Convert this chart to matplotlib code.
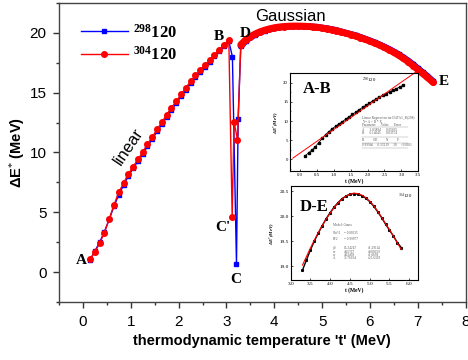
import matplotlib
matplotlib.use("Agg")
import matplotlib.pyplot as plt
from matplotlib.ticker import MultipleLocator, FormatStrFormatter

plt.rcParams['font.family'] = ['Liberation Sans', 'DejaVu Sans']
plt.rcParams['mathtext.fontset'] = 'custom'
plt.rcParams['mathtext.rm'] = 'Liberation Serif'
plt.rcParams['mathtext.bf'] = 'Liberation Serif:bold'
plt.rcParams['mathtext.it'] = 'Liberation Serif:italic'

SERIF = ['Liberation Serif', 'DejaVu Serif']

# ---- data ----
# linear rise A-B (both nuclei share the temperature grid)
rise_t = [0.15, 0.25, 0.35, 0.45, 0.55, 0.65, 0.75, 0.85, 0.95, 1.05,
          1.15, 1.25, 1.35, 1.45, 1.55, 1.65, 1.75, 1.85, 1.95, 2.05,
          2.15, 2.25, 2.35, 2.45, 2.55, 2.65, 2.75, 2.85, 2.95, 3.05]
red_rise = [1.11, 1.67, 2.42, 3.31, 4.45, 5.62, 6.68, 7.43, 8.21, 8.82,
            9.43, 10.02, 10.71, 11.29, 11.93, 12.52, 13.16, 13.74, 14.27, 14.85,
            15.41, 15.94, 16.44, 16.89, 17.33, 17.75, 18.18, 18.60, 19.02, 19.42]
blue_rise = [1.00, 1.75, 2.50, 3.38, 4.40, 5.50, 6.48, 7.25, 8.05, 8.66,
             9.27, 9.86, 10.53, 11.12, 11.76, 12.35, 12.98, 13.56, 14.10, 14.68,
             15.24, 15.77, 16.27, 16.73, 17.18, 17.60, 18.03, 18.45, 18.88, 19.30]

# dip B-C-D
red_dip_t = [3.12, 3.16, 3.23]
red_dip = [4.64, 12.55, 11.07]
blue_dip_t = [3.125, 3.21, 3.245]
blue_dip = [18.0, 0.69, 12.77]

# gaussian part D-E
gauss_t = [3.3, 3.4, 3.5, 3.6, 3.7, 3.8, 3.9, 4.0, 4.1, 4.2,
           4.3, 4.4, 4.5, 4.6, 4.7, 4.8, 4.9, 5.0, 5.1, 5.2,
           5.3, 5.4, 5.5, 5.6, 5.7, 5.8, 5.9, 6.0, 6.1, 6.2,
           6.3, 6.4, 6.5, 6.6, 6.7, 6.8, 6.9, 7.0, 7.1, 7.2, 7.32]
red_gauss = [19.00, 19.40, 19.68, 19.90, 20.08, 20.22, 20.33, 20.42, 20.48, 20.52,
             20.55, 20.56, 20.56, 20.55, 20.53, 20.50, 20.46, 20.40, 20.34, 20.26,
             20.18, 20.07, 19.96, 19.85, 19.74, 19.60, 19.45, 19.30, 19.14, 18.97,
             18.78, 18.58, 18.36, 18.12, 17.86, 17.58, 17.26, 16.93, 16.60, 16.28, 15.85]
blue_gauss = [18.88, 19.30, 19.61, 19.84, 20.03, 20.18, 20.30, 20.40, 20.47, 20.51,
              20.54, 20.56, 20.56, 20.55, 20.54, 20.51, 20.48, 20.42, 20.36, 20.28,
              20.21, 20.10, 19.99, 19.88, 19.78, 19.64, 19.50, 19.35, 19.19, 19.02,
              18.84, 18.64, 18.43, 18.20, 17.94, 17.67, 17.36, 17.03, 16.70, 16.38, 15.95]

# inset A-B linear fit
ab_fit_t = [-0.22, 3.45]
ab_fit_E = [0.35, 22.9]

# inset D-E data and Gauss fit
de_t = [3.3, 3.4, 3.5, 3.6, 3.7, 3.8, 3.9, 4.0, 4.1, 4.2, 4.3, 4.4, 4.5,
        4.6, 4.7, 4.8, 4.9, 5.0, 5.1, 5.2, 5.3, 5.4, 5.5, 5.6, 5.7, 5.8]
de_E = [18.92, 19.12, 19.32, 19.50, 19.66, 19.81, 19.95, 20.07, 20.18, 20.27, 20.35, 20.40, 20.44,
        20.45, 20.44, 20.41, 20.36, 20.29, 20.20, 20.09, 19.97, 19.84, 19.72, 19.60, 19.47, 19.37]
de_fit = [19.02, 19.19, 19.36, 19.52, 19.67, 19.81, 19.94, 20.06, 20.17, 20.26, 20.34, 20.40, 20.44,
          20.46, 20.45, 20.42, 20.37, 20.30, 20.21, 20.10, 19.98, 19.85, 19.73, 19.60, 19.46, 19.33]

blue_t = rise_t + blue_dip_t + gauss_t
blue_E = blue_rise + blue_dip + blue_gauss
red_t = rise_t + red_dip_t + gauss_t
red_E = red_rise + red_dip + red_gauss

# ---- figure ----
fig = plt.figure(figsize=(4.68, 3.6), dpi=100)
ax = fig.add_axes([0.126, 0.161, 0.869, 0.831])

ax.plot(blue_t, blue_E, color='#0000ff', lw=1.0, marker='s', ms=3.2,
        label=r'$\mathbf{^{298}120}$')
# dense sampling in D-E makes the markers merge into a thick band
ax.plot(gauss_t, blue_gauss, color='#0000ff', lw=4.5, solid_capstyle='round')
ax.plot(red_t, red_E, color='#ff0000', lw=1.0, marker='o', ms=4.0,
        label=r'$\mathbf{^{304}120}$')
ax.plot(gauss_t, red_gauss, color='#ff0000', lw=5.0, solid_capstyle='round')

ax.set_xlim(-0.5, 8)
ax.set_ylim(-2.5, 22.5)
ax.xaxis.set_major_locator(MultipleLocator(1))
ax.xaxis.set_minor_locator(MultipleLocator(0.5))
ax.yaxis.set_major_locator(MultipleLocator(5))
ax.yaxis.set_minor_locator(MultipleLocator(2.5))
ax.tick_params(which='major', direction='out', length=4, width=1,
               labelsize=11, color='#333333', pad=5)
ax.tick_params(which='minor', direction='out', length=2.5, width=1, color='#333333')
for s in ax.spines.values():
    s.set_color('#444444')
    s.set_linewidth(1.0)

ax.set_xlabel("thermodynamic temperature 't' (MeV)", fontsize=10.5,
              fontweight='bold', labelpad=4)
ax.set_ylabel(r"ΔE$^{*}$ (MeV)", fontsize=10.5, fontweight='bold', labelpad=2)

leg = ax.legend(loc='upper left', bbox_to_anchor=(0.054, 0.935), frameon=False,
                borderpad=0, borderaxespad=0, handlelength=2.8,
                handletextpad=0.3, labelspacing=0.3, fontsize=12)

lab = dict(fontsize=11, fontweight='bold', family=SERIF, ha='center', va='center')
ax.text(-0.03, 0.97, 'A', **lab)
ax.text(2.85, 19.72, 'B', **lab)
ax.text(2.92, 3.7, "C'", **lab)
ax.text(3.19, -0.64, 'C', **lab)
ax.text(3.40, 19.97, 'D', **lab)
ax.text(7.55, 15.97, 'E', **lab)
ax.text(0.95, 10.5, 'linear', fontsize=12, rotation=56, ha='center', va='center')
ax.text(4.34, 21.4, 'Gaussian', fontsize=12, ha='center', va='center')

# ---- inset A-B ----
tiny = dict(family=SERIF, fontsize=2.4, color='#555555')
ax1 = fig.add_axes([0.620, 0.525, 0.2735, 0.272])
ax1.plot(rise_t, blue_rise, color='black', lw=0.6, marker='s', ms=1.8)
ax1.plot(ab_fit_t, ab_fit_E, color='red', lw=0.7, clip_on=False)
ax1.set_xlim(-0.3, 3.5)
ax1.set_ylim(-3, 22.5)
ax1.xaxis.set_major_locator(MultipleLocator(0.5))
ax1.yaxis.set_major_locator(MultipleLocator(5))
ax1.xaxis.set_major_formatter(FormatStrFormatter('%.1f'))
ax1.yaxis.set_major_formatter(FormatStrFormatter('%.0f'))
ax1.tick_params(direction='in', length=1.5, width=0.5, labelsize=3.5, pad=1.5)
ax1.yaxis.set_minor_locator(MultipleLocator(2.5))
ax1.tick_params(which='minor', direction='in', length=1, width=0.4)
for lb in ax1.get_xticklabels() + ax1.get_yticklabels():
    lb.set_family(SERIF)
for s in ax1.spines.values():
    s.set_linewidth(0.8)
ax1.set_xlabel('t (MeV)', fontsize=4, family=SERIF, fontweight='bold', labelpad=1)
ax1.set_ylabel(r'ΔE$^{*}$(MeV)', fontsize=3.5, family=SERIF, fontweight='bold',
               style='italic', labelpad=1)
ax1.text(0.10, 0.84, 'A-B', transform=ax1.transAxes, fontsize=12,
         fontweight='bold', family=SERIF, va='center')
ax1.text(0.56, 0.93, r'$^{298}$120', transform=ax1.transAxes, fontsize=3.5,
         family=SERIF, va='center')
tab_rows = [(0.54, 'Linear Regression for DATA1_B(298):'),
            (0.50, 'Y = A + B * X'),
            (0.47, 'Parameter      Value      Error'),
            (0.42, 'A      1.03894      0.05665'),
            (0.39, 'B      6.14045      0.03574'),
            (0.32, 'R          SD          N          P'),
            (0.265, '0.99946     0.33219     30     <0.0001')]
for yy, txt in tab_rows:
    ax1.text(0.56, yy, txt, transform=ax1.transAxes, va='center', **tiny)
for yy in [0.45, 0.35, 0.29, 0.235]:
    ax1.plot([0.56, 0.92], [yy, yy], transform=ax1.transAxes, color='#999999', lw=0.3)

# ---- inset D-E ----
ax2 = fig.add_axes([0.621, 0.222, 0.272, 0.261])
ax2.plot(de_t, de_E, color='black', lw=1.0, marker='s', ms=1.2)
ax2.plot(de_t, de_fit, color='red', lw=0.8)
ax2.set_xlim(3.0, 6.22)
ax2.set_ylim(18.72, 20.6)
ax2.xaxis.set_major_locator(MultipleLocator(0.5))
ax2.yaxis.set_major_locator(MultipleLocator(0.5))
ax2.xaxis.set_major_formatter(FormatStrFormatter('%.1f'))
ax2.yaxis.set_major_formatter(FormatStrFormatter('%.1f'))
ax2.tick_params(direction='in', length=1.5, width=0.5, labelsize=3.8, pad=1.5)
for lb in ax2.get_xticklabels() + ax2.get_yticklabels():
    lb.set_family(SERIF)
for s in ax2.spines.values():
    s.set_linewidth(0.8)
ax2.set_xlabel('t (MeV)', fontsize=4, family=SERIF, fontweight='bold', labelpad=1)
ax2.set_ylabel(r'ΔE$^{*}$(MeV)', fontsize=3.5, family=SERIF, fontweight='bold',
               style='italic', labelpad=1)
ax2.text(0.07, 0.78, 'D-E', transform=ax2.transAxes, fontsize=12,
         fontweight='bold', family=SERIF, va='center')
ax2.text(0.84, 0.89, r'$^{304}$120', transform=ax2.transAxes, fontsize=3.5,
         family=SERIF, va='center')
fit_rows = [(0.585, 'Model: Gauss', '', ''),
            (0.50, 'Chi^2', '= 0.00035', ''),
            (0.435, 'R^2', '= 0.99977', ''),
            (0.34, 'y0', '15.24247', '\u00b11.29142'),
            (0.30, 'xc', '4.65767', '\u00b10.00559'),
            (0.265, 'w', '4.63458', '\u00b11.0658'),
            (0.23, 'A', '36.76934', '\u00b125.6399')]
for yy, a, b, c in fit_rows:
    ax2.text(0.33, yy, a, transform=ax2.transAxes, va='center', **tiny)
    ax2.text(0.42, yy, b, transform=ax2.transAxes, va='center', **tiny)
    ax2.text(0.61, yy, c, transform=ax2.transAxes, va='center', **tiny)

fig.savefig('out.png', dpi=100)
